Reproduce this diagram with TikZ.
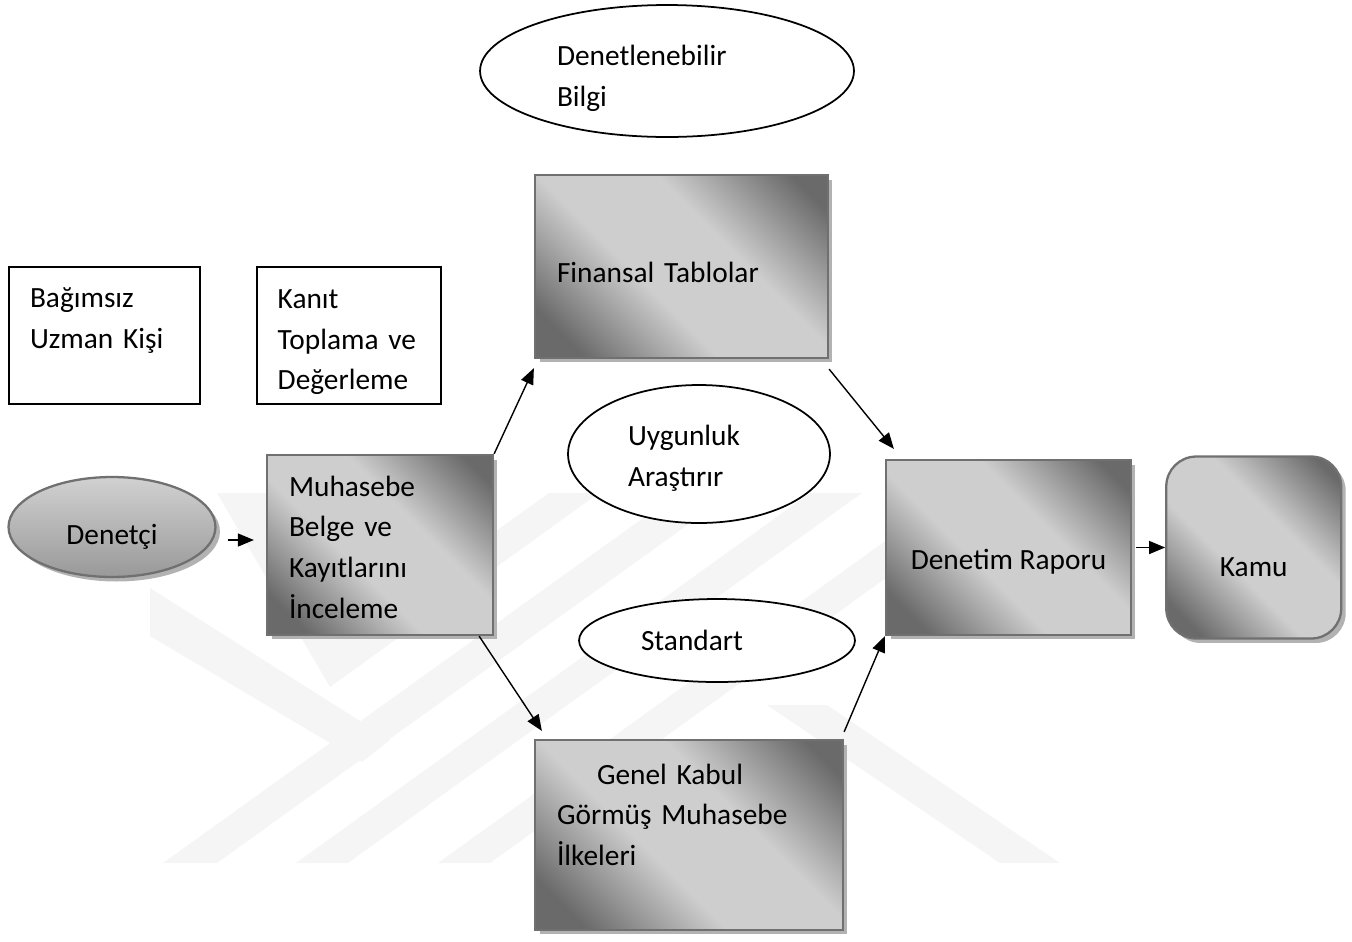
\documentclass[tikz,border=0pt]{standalone}
\usepackage{fontspec}
\setmainfont{Carlito}
\usetikzlibrary{positioning, arrows.meta, shapes.geometric, shadows}

\definecolor{boxdark}{HTML}{6A6A6A}
\definecolor{boxlight}{HTML}{CECECE}
\definecolor{boxedge}{HTML}{707070}
\pgfdeclarehorizontalshading{boxshade}{100bp}{color(0bp)=(boxdark); color(22bp)=(boxdark); color(42bp)=(boxlight); color(60bp)=(boxlight); color(80bp)=(boxdark); color(100bp)=(boxdark)}
\newcommand{\toppad}[1]{\rule{0pt}{#1}}

\begin{document}
\begin{tikzpicture}[
        x=0.02cm, y=-0.02cm,
        font=\fontsize{16.7}{23.2}\selectfont,
        textbox/.style={rectangle, draw, line width=1pt, align=left, inner xsep=0.42cm, inner ysep=0pt},
        shadedbox/.style={rectangle, draw=boxedge, line width=1.3pt, shading=boxshade, shading angle=45, drop shadow={shadow xshift=0.09cm, shadow yshift=-0.09cm, fill=black!30, opacity=1}, align=left, inner xsep=0.44cm, inner ysep=0pt},
        grayoval/.style={ellipse, draw=boxedge, line width=1.3pt, top color=black!18, bottom color=black!40, drop shadow={shadow xshift=0.09cm, shadow yshift=-0.09cm, fill=black!30, opacity=1}, inner sep=0pt},
        bubble/.style={ellipse, draw, line width=1pt, fill=white, align=left, inner sep=0pt},
        watermark/.style={fill=black!4},
        arrow/.style={draw, line width=0.8pt, -{Triangle[length=0.32cm, width=0.26cm]}}
    ]
    \useasboundingbox (0,0) rectangle (1352,941);

    % Watermark
    \fill [watermark] (217,493) -- (267,493) -- (350,636) -- (549,493) -- (599,493) -- (330,687) -- cycle;
    \fill [watermark] (163,863) -- (217,863) -- (732,493) -- (678,493) -- cycle;
    \fill [watermark] (296,863) -- (348,863) -- (862,493) -- (810,493) -- cycle;
    \fill [watermark] (438,863) -- (490,863) -- (1004,493) -- (952,493) -- cycle;
    \fill [watermark] (767,705) -- (827,705) -- (1060,863) -- (1000,863) -- cycle;
    \fill [watermark] (150,588) -- (390,740) -- (362,762) -- (150,636) -- cycle;

    % Nodes
    \node (bilgi) [bubble, minimum width=7.48cm, minimum height=2.64cm, text width=4.4cm] at (667,71) {\toppad{0.69cm}Denetlenebilir\\Bilgi};
    \node (bagimsiz) [textbox, minimum width=3.82cm, minimum height=2.74cm, text width=2.98cm] at (104.5,335.5) {\toppad{0.53cm}Bağımsız\\Uzman Kişi\\\mbox{}};
    \node (kanit) [textbox, minimum width=3.68cm, minimum height=2.74cm, text width=2.84cm, right=1.1cm of bagimsiz] {\toppad{0.65cm}Kanıt\\Toplama ve\\Değerleme};
    \node (finansal) [shadedbox, minimum width=5.86cm, minimum height=3.66cm, text width=4.98cm] at (681.5,266.5) {\toppad{0.65cm}Finansal Tablolar};
    \node (denetci) [grayoval, minimum width=4.14cm, minimum height=2cm, text height=0.7cm, text depth=0cm] at (112,527) {Denetçi};
    \node (muhasebe) [shadedbox, minimum width=4.52cm, minimum height=3.6cm, text width=3.64cm] at (380,545) {\toppad{0.49cm}Muhasebe\\Belge ve\\Kayıtlarını\\İnceleme};
    \node (uygunluk) [bubble, minimum width=5.24cm, minimum height=2.76cm, text width=2.84cm] at (699,454) {\toppad{0.57cm}Uygunluk\\Araştırır};
    \node (standart) [bubble, minimum width=5.52cm, minimum height=1.66cm, text width=3.04cm] at (717,640.5) {Standart};
    \node (denetim) [shadedbox, minimum width=4.9cm, minimum height=3.5cm, text height=0.88cm, text depth=0cm] at (1008.5,547.5) {Denetim Raporu};
    \node (kamu) [shadedbox, rounded corners=0.6cm, minimum width=3.5cm, minimum height=3.64cm, text height=1.16cm, text depth=0cm, right=0.66cm of denetim] {Kamu};
    \node (genel) [shadedbox, minimum width=6.16cm, minimum height=3.8cm, text width=5.28cm] at (689,835) {\hspace*{0.8cm}Genel Kabul\\Görmüş Muhasebe\\İlkeleri\\\mbox{}};

    % Arrows
    \draw [arrow] ([xshift=0.22cm, yshift=-0.26cm]denetci.east) -- ([xshift=-0.24cm, yshift=-0.26cm]denetci.east -| muhasebe.west);
    \draw [arrow] (muhasebe.north east) -- ([yshift=-0.18cm]finansal.south west);
    \draw [arrow] ([yshift=-0.2cm]finansal.south east) -- ([xshift=0.18cm, yshift=0.2cm]denetim.north west);
    \draw [arrow] ([xshift=-0.3cm]muhasebe.south east) -- ([xshift=0.16cm, yshift=0.16cm]genel.north west);
    \draw [arrow] ([yshift=0.14cm]genel.north east) -- (denetim.south west);
    \draw [arrow] ([xshift=0.08cm]denetim.east |- kamu.west) -- (kamu.west);

\end{tikzpicture}
\end{document}
